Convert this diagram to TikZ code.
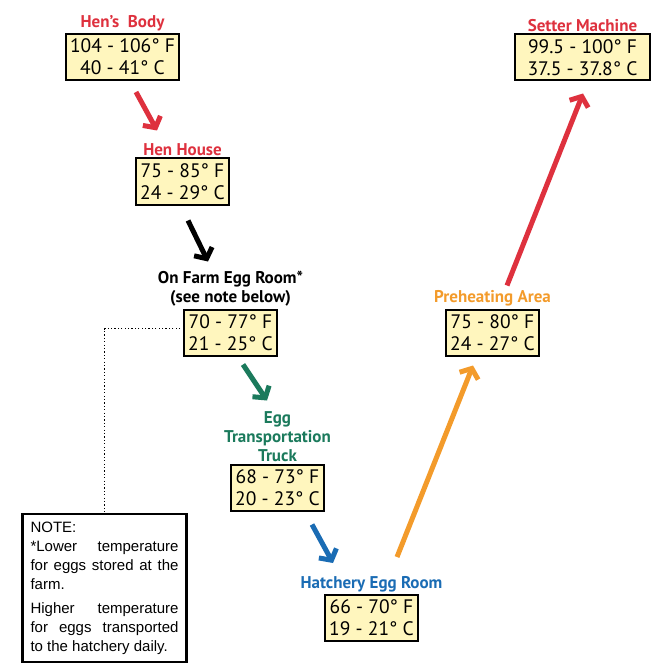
\documentclass[tikz,border=0pt]{standalone}
\usepackage{fontspec}
\setmainfont{PT Sans}
\newfontfamily\notafonte{Liberation Sans}
\usepackage{xcolor}
\usetikzlibrary{positioning,arrows.meta}
\definecolor{vermelho}{RGB}{222,49,62}
\definecolor{laranja}{RGB}{243,155,43}
\definecolor{verde}{RGB}{27,122,92}
\definecolor{azul}{RGB}{26,108,180}
\definecolor{creme}{RGB}{255,246,190}
\tikzset{
  caixa/.style={draw, line width=2pt, fill=creme, align=center, inner xsep=4pt,
                inner ysep=2pt, minimum height=46pt, font=\fontsize{19.5}{22}\selectfont},
  rotulo/.style={font=\fontsize{17}{19}\selectfont\bfseries, align=center, inner sep=1pt},
  seta/.style={line width=5pt, -{Straight Barb[length=8pt,width=20pt]}},
  nota/.style={draw, line width=2.5pt, fill=white, align=justify, text width=148pt,
               inner xsep=8pt, inner ysep=6pt, minimum height=148pt,
               font=\notafonte\fontsize{15}{19}\selectfont},
  pontilhado/.style={line width=1.2pt, dash pattern=on 1.2pt off 2.2pt},
}
\begin{document}
\begin{tikzpicture}[x=1pt,y=-1pt]

    \useasboundingbox (0,0) rectangle (657,671);

    %% ---------- caixas de temperatura ----------
    \node[caixa] (corpo)    at (122.5,57)   {104 - 106° F\\40 - 41° C};
    \node[caixa] (galpao)   at (182.5,181.5) {75 - 85° F\\24 - 29° C};
    \node[caixa] (sala)     at (230.5,332.5) {70 - 77° F\\21 - 25° C};
    \node[caixa] (caminhao) at (277.5,487.5) {68 - 73° F\\20 - 23° C};
    \node[caixa] (incub)    at (371.5,618)   {66 - 70° F\\19 - 21° C};
    \node[caixa] (preaq)    at (492.5,332.5) {75 - 80° F\\24 - 27° C};
    \node[caixa, minimum width=135pt] (setter) at (582.5,57.5) {99.5 - 100° F\\37.5 - 37.8° C};

    %% ---------- rotulos ----------
    \node[rotulo, vermelho, above=1pt of corpo]    (corpoR)    {Hen’s\ \ Body};
    \node[rotulo, vermelho, above=1pt of galpao]   (galpaoR)   {Hen House};
    \node[rotulo, above=1pt of sala]               (salaR)     {On Farm Egg Room*\\(see note below)};
    \node[rotulo, verde, above=1pt of caminhao]    (caminhaoR) {Egg\\Transportation\\Truck};
    \node[rotulo, azul, above=1pt of incub]        (incubR)    {Hatchery Egg Room};
    \node[rotulo, laranja, above=1pt of preaq]     (preaqR)    {Preheating Area};
    \node[rotulo, vermelho, above=1pt of setter]   (setterR)   {Setter Machine};

    %% ---------- nota ----------
    \node[nota] (nota) at (104.5,588) {NOTE:\par *Lower temperature\linebreak for eggs stored at the\linebreak farm.\par\vspace{5pt}
      Higher temperature\linebreak for eggs transported\linebreak to the hatchery daily.};
    \draw[pontilhado] ([shift={(-3,-4)}]sala.west) -| (nota.north);

    %% ---------- setas ----------
    \draw[seta, vermelho] ([shift={(13.5,11)}]corpo.south)   -- ([shift={(-25.5,-27)}]galpao.north);
    \draw[seta, black]    ([shift={(5.5,15)}]galpao.south)   -- ([shift={(-22.5,-47)}]sala.north);
    \draw[seta, verde]    ([shift={(12.5,8)}]sala.south)     -- ([shift={(-10.5,-63)}]caminhao.north);
    \draw[seta, azul]     ([shift={(34.5,13)}]caminhao.south) -- ([shift={(-38.5,-31)}]incub.north);
    \draw[seta, laranja]  ([shift={(25.5,-37)}]incub.north)  -- ([shift={(-19.5,9)}]preaq.south);
    \draw[seta, vermelho] ([shift={(14.5,-23)}]preaq.north)  -- ([shift={(0.5,12)}]setter.south);

\end{tikzpicture}
\end{document}
